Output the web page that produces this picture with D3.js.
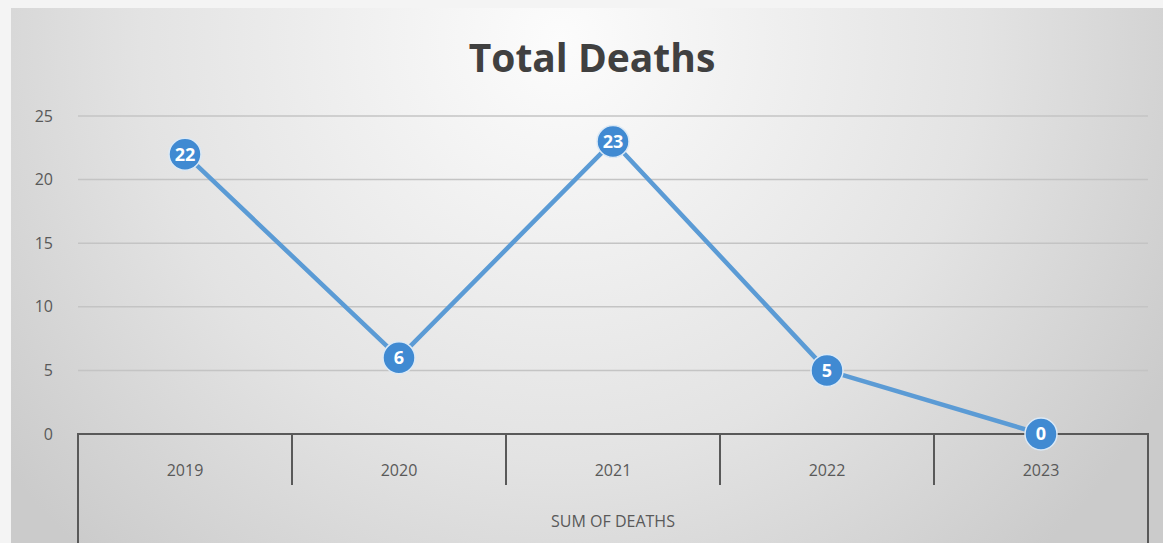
<!DOCTYPE html>
<html>
<head>
<meta charset="utf-8">
<script src="https://cdn.jsdelivr.net/npm/d3@7/dist/d3.min.js"></script>
<style>
  body{margin:0;background:#f4f4f4;}
  svg{display:block;}
  text{font-family:"Open Sans","Liberation Sans",sans-serif;}
</style>
</head>
<body>
<svg id="chart" width="1163" height="543"></svg>
<script>
// data
var years=["2019","2020","2021","2022","2023"];
var deaths=[22,6,23,5,0];
var yTicks=[0,5,10,15,20,25];
var seriesName="SUM OF DEATHS";
var title="Total Deaths";

var svg=d3.select("#chart");
var W=1163,H=543;

// background gradient
var defs=svg.append("defs");
var grad=defs.append("radialGradient").attr("id","bg")
    .attr("gradientUnits","userSpaceOnUse")
    .attr("cx",560).attr("cy",40).attr("r",700);
grad.append("stop").attr("offset","0").attr("stop-color","#fcfcfc");
grad.append("stop").attr("offset","0.6").attr("stop-color","#e3e3e3");
grad.append("stop").attr("offset","1").attr("stop-color","#cbcbcb");

svg.append("rect").attr("x",11).attr("y",8).attr("width",W-11).attr("height",H-8)
    .attr("fill","url(#bg)");

var x=d3.scaleBand().domain(years).range([78,1148]);
var y=d3.scaleLinear().domain([0,25]).range([434,116]);

// gridlines
svg.append("g").selectAll("line").data(yTicks.filter(function(d){return d>0;})).enter()
    .append("line")
    .attr("x1",78).attr("x2",1148)
    .attr("y1",function(d){return y(d);}).attr("y2",function(d){return y(d);})
    .attr("stroke","#c4c4c4").attr("stroke-width",1.5);

// y axis labels
var yAxis=d3.axisLeft(y).tickValues(yTicks).tickSize(0).tickPadding(25);
var gy=svg.append("g").attr("transform","translate(78,0)").call(yAxis);
gy.select(".domain").remove();
gy.selectAll("text").attr("font-size",16).attr("fill","#595959")
    .attr("font-family","'Open Sans','Liberation Sans',sans-serif");

// x axis (multi-level category)
var axisColor="#595959";
var ax=svg.append("g");
ax.append("line").attr("x1",78).attr("x2",1148).attr("y1",434).attr("y2",434)
    .attr("stroke",axisColor).attr("stroke-width",2);
var bounds=years.map(function(d){return x(d);}).concat([x.range()[1]]);
ax.selectAll("line.sep").data(bounds).enter().append("line").attr("class","sep")
    .attr("x1",function(d){return d;}).attr("x2",function(d){return d;})
    .attr("y1",433)
    .attr("y2",function(d,i){return (i==0||i==bounds.length-1)?H:485;})
    .attr("stroke",axisColor).attr("stroke-width",2);
ax.selectAll("text.yr").data(years).enter().append("text").attr("class","yr")
    .attr("x",function(d){return x(d)+x.bandwidth()/2;})
    .attr("y",476).attr("text-anchor","middle")
    .attr("font-size",16).attr("fill","#595959").text(function(d){return d;});
ax.append("text").attr("x",(x.range()[0]+x.range()[1])/2).attr("y",527)
    .attr("text-anchor","middle").attr("font-size",16).attr("fill","#595959")
    .text(seriesName);

// title
svg.append("text").attr("x",592).attr("y",72).attr("text-anchor","middle")
    .attr("font-size",39).attr("font-weight","bold").attr("fill","#404040")
    .text(title);

// line
var pts=years.map(function(d,i){return {year:d,value:deaths[i]};});
var line=d3.line().x(function(d){return x(d.year)+x.bandwidth()/2;})
    .y(function(d){return y(d.value);});
svg.append("path").datum(pts).attr("d",line).attr("fill","none")
    .attr("stroke","#5b9bd5").attr("stroke-width",4.5).attr("stroke-linejoin","round");

var mk=svg.append("g").selectAll("g").data(pts).enter().append("g")
    .attr("transform",function(d){return "translate("+(x(d.year)+x.bandwidth()/2)+","+y(d.value)+")";});
mk.append("circle").attr("r",16).attr("fill","#408ad2").attr("stroke","#dbe9f6").attr("stroke-width",1.5);
mk.append("text").attr("text-anchor","middle").attr("dy","0.36em")
    .attr("font-size",18).attr("font-weight","bold").attr("fill","#ffffff")
    .text(function(d){return d.value;});
</script>
</body>
</html>
